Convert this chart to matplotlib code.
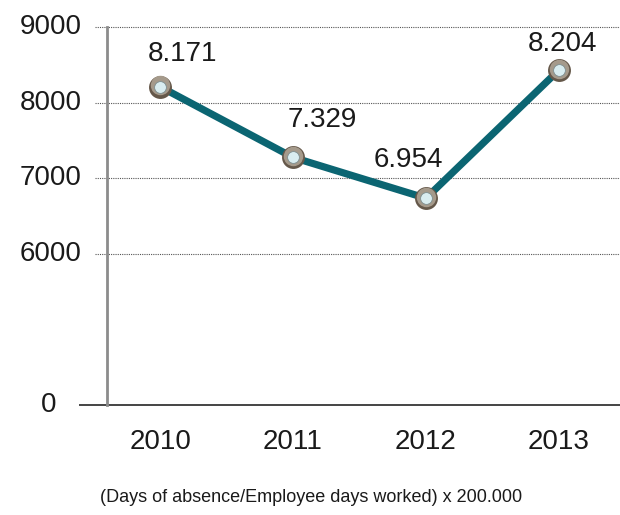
import numpy as np
import matplotlib
matplotlib.use("Agg")
import matplotlib.pyplot as plt
from matplotlib.transforms import offset_copy

# data (plotted heights), labels as printed
years = ["2010", "2011", "2012", "2013"]
values = [8210, 7275, 6735, 8430]
value_labels = ["8.171", "7.329", "6.954", "8.204"]
label_offsets = [(22, 33), (29, 37), (-18, 38), (4, 26)]  # pixels, right / up
y_ticks = [0, 6000, 7000, 8000, 9000]
caption = "(Days of absence/Employee days worked) x 200.000"

FONT = ["Liberation Sans", "DejaVu Sans"]
TEXT = "#1a1a1a"
LINE = "#0b6572"


# broken axis: 0-6000 squeezed into the bottom part
def fwd(v):
    v = np.asarray(v, dtype=float)
    return np.where(v <= 6000, v / 3000.0, 2 + (v - 6000) / 1000.0)


def inv(u):
    u = np.asarray(u, dtype=float)
    return np.where(u <= 2, u * 3000.0, 6000 + (u - 2) * 1000.0)


fig = plt.figure(figsize=(6.2, 5.15), dpi=100)
ax = fig.add_axes([107 / 620, 110 / 515, 1 - 107 / 620, 378 / 515])
ax.set_yscale("function", functions=(fwd, inv))
x = np.arange(len(years))
ax.set_xlim(-0.4, 3.46)
ax.set_ylim(0, 9000)

for s in ["top", "right", "bottom", "left"]:
    ax.spines[s].set_visible(False)
ax.set_yticks([])

# dotted gridlines poking out left of the axis
ytr = ax.get_yaxis_transform()
for v in y_ticks[1:]:
    ax.plot([-0.024, 1], [v, v], transform=ytr, color="#555555", lw=0.8,
            ls=(0, (1, 1)), clip_on=False, zorder=1)
    ax.text(-0.049, v, str(v), transform=ytr, ha="right", va="center",
            fontsize=20, family=FONT, color=TEXT)
ax.text(-0.098, 0, "0", transform=ytr, ha="right", va="center",
        fontsize=20, family=FONT, color=TEXT)

# baseline and vertical axis
ax.plot([-0.053, 1], [0, 0], transform=ytr, color="#444444", lw=1.4,
        clip_on=False, zorder=2)
ax.plot([0, 0], [0, 9000], transform=ytr, color="#8c8c8c", lw=2,
        clip_on=False, zorder=2)

ax.plot(x, values, color=LINE, lw=5.2, solid_capstyle="round", zorder=3)

# bead markers: dark rim, lighter top, pale centre
up = offset_copy(ax.transData, fig=fig, x=0, y=1.5, units="dots")
ax.scatter(x, values, s=16.5 ** 2, color="#65584a", linewidths=0, zorder=4)
ax.scatter(x, values, s=14 ** 2, color="#a59a8b", linewidths=0, zorder=5,
           transform=up)
ax.scatter(x, values, s=8.5 ** 2, color="#d9edf0", edgecolors="#7d8e90",
           linewidths=0.6, zorder=6)

for xi, v, lab, off in zip(x, values, value_labels, label_offsets):
    ax.annotate(lab, (xi, v), xytext=off, textcoords="offset pixels",
                ha="center", va="center", fontsize=20, family=FONT,
                color=TEXT, zorder=7)

ax.set_xticks(x)
ax.set_xticklabels(years, fontsize=20, family=FONT, color=TEXT)
ax.tick_params(axis="x", length=0, pad=17)

fig.text(311 / 620, 1 - 497 / 515, caption, ha="center", va="center",
         fontsize=13, family=FONT, color=TEXT)

fig.savefig("out.png", dpi=100)
